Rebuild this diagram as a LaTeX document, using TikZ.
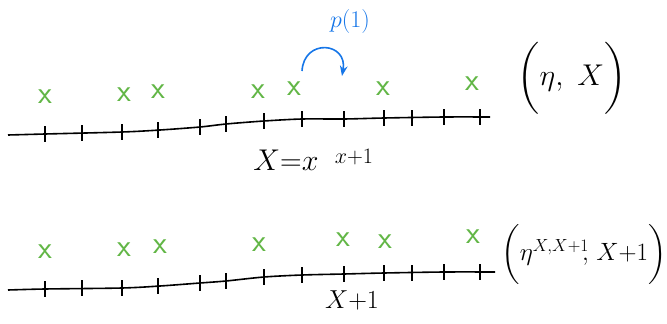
\RequirePackage{fix-cm}
\documentclass[tikz,border=0pt]{standalone}
\usepackage{amsmath}
\usepackage{amssymb}
\usepackage{mathtools}
\usepackage{tikz}
\usetikzlibrary{arrows.meta}
\definecolor{xgreen}{RGB}{98,182,70}
\definecolor{pblue}{RGB}{22,118,232}

\begin{document}
\begin{tikzpicture}[x=1pt,y=-1pt,>=Stealth,
  site/.style={text=xgreen,font=\fontsize{32}{32}\selectfont\sffamily,inner sep=0pt},
  lbl/.style={font=\fontsize{30}{34}\selectfont,inner sep=0pt},
  axis/.style={line width=1.6pt},
  tick/.style={line width=1.2pt}]
\useasboundingbox (0,0) rectangle (667,324);
% configuration before the jump
\draw[axis] plot[smooth] coordinates {(8,135) (45,134) (122,132) (160,130) (200,127)
  (226,124) (264,121) (302,119) (344,119) (384,118) (444,117) (490,117)};
\foreach \x/\y in {45/134,82/133,122/132,158/130,200/127,226/124,264/121,
  302/119,344/119,384/118,412/118,444/117,480/117}
  \draw[tick] (\x,\y-8) -- (\x,\y+8);
\foreach \x/\y [count=\i] in {45/97,124/95,158/92,258/92,294/89,383/89,472/84}
  \node[site] (t\i) at (\x,\y) {x};
\node[lbl,text=pblue,font=\fontsize{24}{28}\selectfont] (rate) at (350,22) {$p(1)$};
\coordinate (jfrom) at (302,71);
\coordinate (jto) at (342,76);
\draw[pblue,line width=1.6pt,->] (jfrom) .. controls (304,38) and (348,42) .. (jto);
\node[lbl] (Xx) at (286,160) {$X{=}x$};
\node[lbl,font=\fontsize{22}{26}\selectfont] (x1) at (354,157) {$x{+}1$};
\node[lbl] (state) at (572,78) {$\bigg(\eta,\ X\bigg)$};

% configuration after the jump
\draw[axis] plot[smooth] coordinates {(8,290) (45,289) (122,288) (160,286) (200,283)
  (226,281) (264,277) (302,275) (344,274) (384,273) (444,272) (495,272)};
\foreach \x/\y in {45/289,82/288,122/288,158/286,200/283,226/281,264/277,
  302/275,344/274,384/273,412/273,444/272,480/272}
  \draw[tick] (\x,\y-8) -- (\x,\y+8);
\foreach \x/\y [count=\i] in {45/252,124/250,160/247,259/245,343/240,385/242,473/237}
  \node[site] (b\i) at (\x,\y) {x};
\node[lbl,font=\fontsize{26}{30}\selectfont] (X1) at (352,300) {$X{+}1$};
\node[lbl,font=\fontsize{25}{30}\selectfont] (newstate) at (584,254)
  {$\bigg(\eta^{X,X{+}1}\mathllap{,}\ X{+}1\bigg)$};
\end{tikzpicture}
\end{document}
